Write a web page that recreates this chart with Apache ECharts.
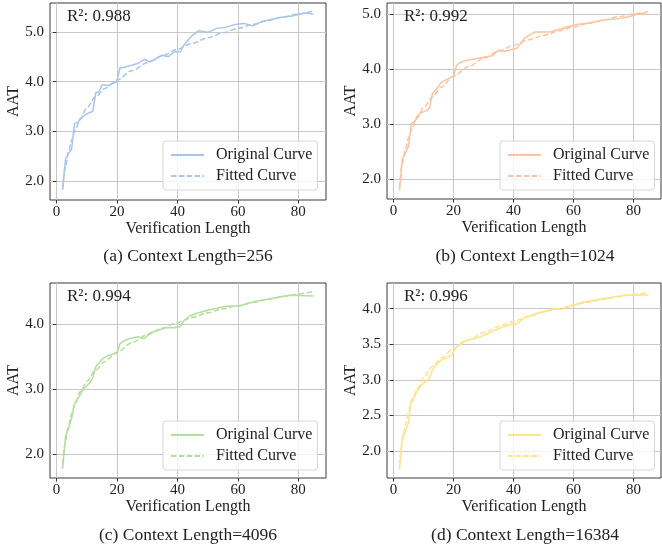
<!DOCTYPE html>
<html>
<head>
<meta charset="utf-8">
<script src="https://cdn.jsdelivr.net/npm/echarts@6/dist/echarts.min.js"></script>
<style>
  html, body { margin: 0; padding: 0; background: #fff; }
  #chart { width: 662px; height: 547px; }
</style>
</head>
<body>
<div id="chart"></div>
<script>
// --- data ---
const captions = ["(a) Context Length=256", "(b) Context Length=1024", "(c) Context Length=4096", "(d) Context Length=16384"];
const r2Values = ["0.988", "0.992", "0.994", "0.996"];
const colors = ["#aac5ea", "#fbc4a0", "#b3dea0", "#fde38f"];

const origA = [[2,1.82],[3,2.45],[4,2.55],[5,2.65],[6,3.16],[7,3.18],[8,3.25],[9,3.31],[10,3.35],[11,3.38],[12,3.40],[13,3.78],[14,3.79],[15,3.93],[16,3.93],[17,3.92],[18,3.95],[19,3.97],[20,4.0],[21,4.28],[22,4.28],[23,4.30],[24,4.32],[25,4.33],[26,4.35],[27,4.37],[28,4.40],[29,4.45],[30,4.42],[31,4.40],[33,4.46],[35,4.53],[37,4.50],[39,4.60],[41,4.60],[42,4.72],[44,4.87],[45,4.93],[47,5.02],[50,4.99],[53,5.07],[56,5.09],[59,5.15],[62,5.17],[65,5.12],[68,5.21],[71,5.25],[74,5.29],[78,5.32],[80,5.35],[82,5.38],[85,5.36]];
const origB = [[2,1.80],[3,2.38],[4,2.48],[5,2.60],[6,3.02],[7,3.05],[8,3.12],[9,3.21],[10,3.23],[11,3.25],[12,3.30],[13,3.56],[14,3.62],[15,3.70],[16,3.76],[17,3.80],[18,3.82],[19,3.85],[20,3.87],[21,4.07],[22,4.12],[24,4.16],[26,4.18],[28,4.20],[30,4.22],[33,4.25],[35,4.35],[37,4.33],[39,4.36],[41,4.38],[42,4.45],[44,4.58],[47,4.68],[52,4.68],[57,4.76],[61,4.82],[65,4.84],[70,4.90],[76,4.93],[79,4.97],[82,5.02],[85,5.00]];
const origC = [[2,1.77],[3,2.28],[4,2.40],[5,2.55],[6,2.78],[7,2.85],[8,2.93],[9,3.01],[10,3.05],[11,3.10],[12,3.18],[13,3.35],[14,3.40],[15,3.46],[17,3.52],[20,3.56],[21,3.70],[22,3.74],[24,3.78],[27,3.81],[29,3.78],[31,3.87],[33,3.90],[36,3.95],[39,3.95],[41,3.97],[42,4.05],[44,4.13],[47,4.18],[50,4.22],[53,4.25],[56,4.28],[61,4.29],[63,4.32],[66,4.36],[69,4.38],[72,4.41],[77,4.45],[85,4.44]];
const origD = [[2,1.74],[3,2.20],[4,2.27],[5,2.40],[6,2.73],[7,2.76],[8,2.85],[9,2.91],[10,2.95],[11,2.98],[12,3.02],[13,3.14],[14,3.20],[16,3.28],[19,3.33],[21,3.46],[23,3.53],[25,3.56],[27,3.58],[30,3.62],[34,3.70],[37,3.75],[40,3.79],[41,3.78],[44,3.88],[47,3.92],[50,3.96],[53,3.99],[56,3.99],[60,4.05],[63,4.09],[66,4.11],[70,4.14],[73,4.16],[78,4.19],[85,4.19]];

const fitX = [2, 3, 4, 5, 6, 8, 10, 13, 16, 20, 25, 30, 35, 40, 45, 50, 55, 60, 65, 70, 75, 80, 85];
const fitA = [1.85, 2.30, 2.60, 2.82, 3.00, 3.27, 3.47, 3.70, 3.86, 4.03, 4.22, 4.38, 4.52, 4.65, 4.77, 4.88, 4.98, 5.07, 5.15, 5.23, 5.30, 5.36, 5.42];
const fitB = [1.85, 2.30, 2.55, 2.75, 2.90, 3.15, 3.30, 3.50, 3.68, 3.88, 4.05, 4.20, 4.33, 4.44, 4.54, 4.62, 4.70, 4.77, 4.84, 4.90, 4.96, 5.01, 5.06];
const fitC = [1.85, 2.20, 2.45, 2.62, 2.76, 2.97, 3.12, 3.30, 3.43, 3.57, 3.72, 3.84, 3.94, 4.03, 4.11, 4.18, 4.24, 4.29, 4.34, 4.39, 4.43, 4.47, 4.51];
const fitD = [1.80, 2.15, 2.38, 2.55, 2.68, 2.88, 3.03, 3.19, 3.31, 3.44, 3.56, 3.66, 3.75, 3.82, 3.89, 3.95, 4.00, 4.05, 4.09, 4.13, 4.17, 4.20, 4.23];

const xTicks = [0, 20, 40, 60, 80];
const yTicks = [[2, 3, 4, 5], [2, 3, 4, 5], [2, 3, 4], [2, 2.5, 3, 3.5, 4]];

const originals = [origA, origB, origC, origD];
const fitted = [fitA, fitB, fitC, fitD];
const xRange = [-2.15, 89.15];
const yRanges = [[1.62, 5.58], [1.64, 5.21], [1.63, 4.64], [1.62, 4.36]];
const yStep = [1, 1, 1, 0.5];

// --- layout ---
const FONT = "'Liberation Serif', 'Times New Roman', serif";
const grids = [
  { left: 50, top: 3, width: 276, height: 197 },
  { left: 387, top: 3, width: 274, height: 196 },
  { left: 50, top: 283, width: 276, height: 195 },
  { left: 387, top: 283, width: 274, height: 195 },
];

function isStep(v, step) {
  return Math.abs(v / step - Math.round(v / step)) < 1e-6;
}

const option = {
  backgroundColor: "#fff",
  animation: false,
  textStyle: { fontFamily: FONT },
  grid: grids.map((g) => ({ ...g, show: true, borderColor: "#3a3a3a", borderWidth: 1, containLabel: false })),
  xAxis: grids.map((g, i) => ({
    type: "value",
    gridIndex: i,
    min: xRange[0],
    max: xRange[1],
    minInterval: 20,
    maxInterval: 20,
    name: "Verification Length",
    nameLocation: "middle",
    nameGap: 19,
    nameTextStyle: { fontFamily: FONT, fontSize: 16, color: "#222" },
    axisLine: { show: false },
    axisTick: { show: true, length: 3.5, lineStyle: { color: "#333" }, customValues: xTicks },
    axisLabel: {
      margin: 5, fontFamily: FONT, fontSize: 15, color: "#222",
      customValues: xTicks,
      formatter: (v) => (isStep(v, 20) ? String(Math.round(v)) : ""),
    },
    splitLine: { show: true, lineStyle: { color: "#c8c8c8", width: 1 } },
  })),
  yAxis: grids.map((g, i) => ({
    type: "value",
    gridIndex: i,
    min: yRanges[i][0],
    max: yRanges[i][1],
    minInterval: yStep[i],
    maxInterval: yStep[i],
    name: "AAT",
    nameLocation: "middle",
    nameGap: 25,
    nameTextStyle: { fontFamily: FONT, fontSize: 16, color: "#222" },
    axisLine: { show: false },
    axisTick: { show: true, length: 3.5, lineStyle: { color: "#333" }, customValues: yTicks[i] },
    axisLabel: {
      margin: 6, fontFamily: FONT, fontSize: 15, color: "#222",
      customValues: yTicks[i],
      formatter: (v) => (isStep(v, yStep[i]) ? v.toFixed(1) : ""),
    },
    splitLine: { show: true, lineStyle: { color: "#c8c8c8", width: 1 } },
  })),
  title: [
    ...captions.map((c, i) => ({
      text: c,
      left: grids[i].left + 138,
      top: i < 2 ? 247 : 526,
      textAlign: "center",
      textStyle: { fontFamily: FONT, fontSize: 17.5, fontWeight: "normal", color: "#222" },
      padding: 0,
    })),
    ...r2Values.map((r, i) => ({
      text: "R²: " + r,
      left: grids[i].left + 17,
      top: grids[i].top + 5,
      textStyle: { fontFamily: FONT, fontSize: 17, fontWeight: "normal", color: "#222" },
      padding: 0,
    })),
  ],
  legend: grids.map((g, i) => ({
    data: [i + "|Original Curve", i + "|Fitted Curve"],
    formatter: (name) => name.split("|")[1],
    orient: "vertical",
    left: g.left + 113,
    top: g.top + 138,
    itemWidth: 33,
    itemHeight: 14,
    itemGap: 5,
    padding: [6, 5, 6, 7],
    borderColor: "#d6d6d6",
    borderWidth: 1,
    borderRadius: 3,
    backgroundColor: "rgba(255,255,255,0.8)",
    itemStyle: { opacity: 0 },
    textStyle: { fontFamily: FONT, fontSize: 16, color: "#222", padding: [0, 0, 0, 7] },
    selectedMode: false,
  })),
  series: [],
};

originals.forEach((orig, i) => {
  option.series.push({
    name: i + "|Original Curve",
    type: "line",
    xAxisIndex: i,
    yAxisIndex: i,
    data: orig,
    showSymbol: false,
    symbol: "none",
    lineStyle: { color: colors[i], width: 1.5 },
    itemStyle: { color: colors[i] },
  });
  option.series.push({
    name: i + "|Fitted Curve",
    type: "line",
    xAxisIndex: i,
    yAxisIndex: i,
    data: fitX.map((x, k) => [x, fitted[i][k]]),
    showSymbol: false,
    symbol: "none",
    smooth: 0.3,
    smoothMonotone: "x",
    lineStyle: { color: colors[i], width: 1.5, type: [5.5, 2.4] },
    itemStyle: { color: colors[i] },
  });
});

const chart = echarts.init(document.getElementById("chart"), null, { renderer: "canvas" });
chart.setOption(option);
</script>
</body>
</html>
